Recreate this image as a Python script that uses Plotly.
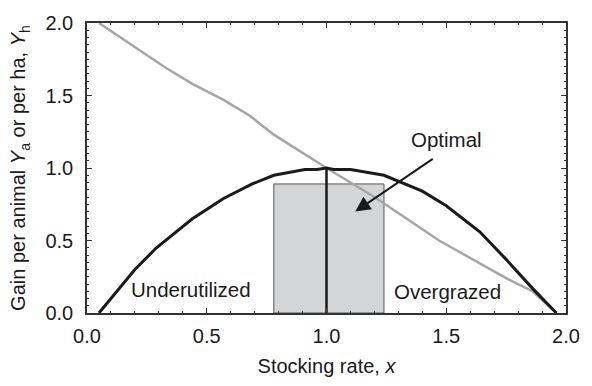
import plotly.graph_objects as go

# Gain per animal (black curve)
animal_x = [0.05, 0.20, 0.29, 0.44, 0.57, 0.69, 0.78, 0.85, 0.91, 0.96, 1.00, 1.03, 1.10, 1.24, 1.40, 1.50, 1.64, 1.75, 1.86, 1.96]
animal_y = [0.00, 0.30, 0.45, 0.65, 0.79, 0.89, 0.95, 0.97, 0.99, 0.99, 1.00, 0.99, 0.99, 0.95, 0.84, 0.74, 0.56, 0.37, 0.17, 0.00]

# Gain per ha (gray line)
ha_x = [0.05, 0.33, 0.44, 0.57, 0.68, 0.78, 1.00, 1.20, 1.47, 1.62, 1.75, 1.86, 1.96]
ha_y = [2.00, 1.69, 1.58, 1.47, 1.36, 1.23, 1.00, 0.80, 0.50, 0.36, 0.24, 0.15, 0.00]

# Optimal region
optimal_x = [0.78, 1.24]
optimal_top = 0.89
optimum_x = 1.0
optimum_y = 1.0

# Labels
label_text = ["Underutilized", "Overgrazed"]
label_x = [0.435, 1.505]
label_y = [0.165, 0.145]
optimal_label = "Optimal"
optimal_label_xy = [1.50, 1.20]
arrow_tail = [1.45, 1.07]
arrow_head = [1.12, 0.70]

x_ticks = [0.0, 0.5, 1.0, 1.5, 2.0]
y_ticks = [0.0, 0.5, 1.0, 1.5, 2.0]

FONT = "Liberation Sans, Arial, Helvetica, sans-serif"
INK = "#1a1a1a"

fig = go.Figure()

# optimal rectangle
fig.add_trace(go.Scatter(
    x=[optimal_x[0], optimal_x[1], optimal_x[1], optimal_x[0], optimal_x[0]],
    y=[0, 0, optimal_top, optimal_top, 0],
    mode="lines", fill="toself", fillcolor="#d4d5d7",
    line=dict(color="#555555", width=1), hoverinfo="skip", showlegend=False))

# per ha line
fig.add_trace(go.Scatter(x=ha_x, y=ha_y, mode="lines",
                         line=dict(color="#a6a6a6", width=2.5), showlegend=False))

# per animal curve
fig.add_trace(go.Scatter(x=animal_x, y=animal_y, mode="lines",
                         line=dict(color=INK, width=3), showlegend=False))

# optimum vertical line
fig.add_trace(go.Scatter(x=[optimum_x, optimum_x], y=[0, optimum_y], mode="lines",
                         line=dict(color=INK, width=2.5), showlegend=False))

for t, x, y in zip(label_text, label_x, label_y):
    fig.add_annotation(x=x, y=y, text=t, showarrow=False,
                       font=dict(family=FONT, size=20.5, color=INK))

fig.add_annotation(x=optimal_label_xy[0], y=optimal_label_xy[1], text=optimal_label,
                   showarrow=False, font=dict(family=FONT, size=20.5, color=INK))
fig.add_annotation(x=arrow_head[0], y=arrow_head[1], ax=arrow_tail[0], ay=arrow_tail[1],
                   axref="x", ayref="y", xref="x", yref="y", text="",
                   showarrow=True, arrowhead=2, arrowsize=1.5, arrowwidth=2,
                   arrowcolor=INK)

axis_common = dict(
    showgrid=False, zeroline=False, showline=True, linecolor="#333333", linewidth=1.5,
    mirror="ticks", ticks="inside", ticklen=5, tickwidth=1, tickcolor="#333333",
    tickfont=dict(family=FONT, size=20, color=INK),
)

fig.update_xaxes(range=[0, 2.0], tickvals=x_ticks, ticktext=[f"{v:.1f}" for v in x_ticks],
                 minor=dict(dtick=0.1, ticks="inside", ticklen=2.5, tickcolor="#333333"),
                 title=dict(text="Stocking rate, <i>x</i>", font=dict(family=FONT, size=20, color=INK),
                            standoff=13),
                 ticklabelstandoff=4,
                 **axis_common)
fig.update_yaxes(range=[0, 2.0], tickvals=y_ticks, ticktext=[f"{v:.1f}" for v in y_ticks],
                 minor=dict(dtick=0.05, ticks="inside", ticklen=2.5, tickcolor="#333333"),
                 title=dict(text="Gain per animal <i>Y</i><sub>a</sub> or per ha, <i>Y</i><sub>h</sub>",
                            font=dict(family=FONT, size=20, color=INK), standoff=14),
                 ticklabelstandoff=8,
                 **axis_common)

fig.update_layout(
    width=592, height=386,
    margin=dict(l=87, r=17, t=14, b=70),
    paper_bgcolor="white", plot_bgcolor="white",
    showlegend=False,
)

fig.write_html("out.html")
